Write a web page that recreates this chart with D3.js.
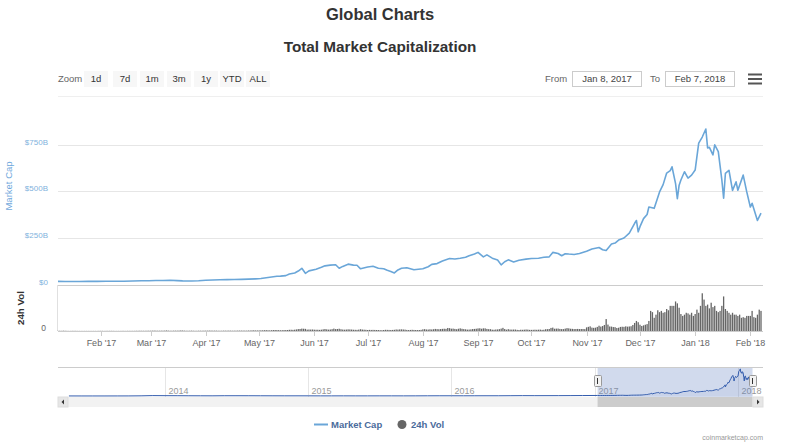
<!DOCTYPE html>
<html><head><meta charset="utf-8">
<script src="https://cdn.jsdelivr.net/npm/d3@7"></script>
<style>body{margin:0;background:#fff}svg{display:block;font-family:"Liberation Sans",Arial,sans-serif}</style>
</head><body><svg id="c" width="800" height="444"></svg>
<script>
// ---------- DATA ----------
const chartTitle = "Global Charts";
const chartSubtitle = "Total Market Capitalization";
const zoomButtons = ["1d","7d","1m","3m","1y","YTD","ALL"];
const rangeFrom = "Jan 8, 2017";
const rangeTo = "Feb 7, 2018";
const capTicks = [0, 250, 500, 750];               // $B
const capTickLabels = ["$0","$250B","$500B","$750B"];
const legendNames = ["Market Cap","24h Vol"];
const navYears = ["2014","2015","2016","2017","2018"];

// Total market cap, $B (2017-01-08 .. 2018-02-07)
const capDates = ["2017-01-08","2017-01-12","2017-01-16","2017-01-20","2017-01-25","2017-01-30","2017-02-04","2017-02-09","2017-02-14","2017-02-19","2017-02-24","2017-02-28",
"2017-03-04","2017-03-08","2017-03-12","2017-03-16","2017-03-19","2017-03-24","2017-03-28","2017-04-01","2017-04-05","2017-04-09","2017-04-13","2017-04-17","2017-04-21","2017-04-25","2017-04-29",
"2017-05-02","2017-05-05","2017-05-08","2017-05-11","2017-05-13","2017-05-16","2017-05-18","2017-05-21","2017-05-23","2017-05-25","2017-05-27","2017-05-29",
"2017-06-02","2017-06-05","2017-06-07","2017-06-10","2017-06-13","2017-06-15","2017-06-17","2017-06-20","2017-06-23","2017-06-25","2017-06-27",
"2017-07-01","2017-07-04","2017-07-07","2017-07-10","2017-07-12","2017-07-14","2017-07-16","2017-07-18","2017-07-20","2017-07-23","2017-07-27",
"2017-08-01","2017-08-04","2017-08-06","2017-08-09","2017-08-12","2017-08-16","2017-08-19","2017-08-22","2017-08-25","2017-08-27","2017-08-30",
"2017-09-01","2017-09-04","2017-09-06","2017-09-09","2017-09-12","2017-09-14","2017-09-16","2017-09-18","2017-09-21","2017-09-24","2017-09-28",
"2017-10-01","2017-10-05","2017-10-08","2017-10-11","2017-10-13","2017-10-16","2017-10-18","2017-10-20","2017-10-22","2017-10-25","2017-10-28",
"2017-11-01","2017-11-04","2017-11-08","2017-11-10","2017-11-12","2017-11-15","2017-11-17","2017-11-19","2017-11-22","2017-11-25","2017-11-28","2017-11-29","2017-11-30",
"2017-12-01","2017-12-03","2017-12-05","2017-12-06","2017-12-09","2017-12-12","2017-12-14","2017-12-16","2017-12-18","2017-12-19","2017-12-21","2017-12-22","2017-12-23","2017-12-24","2017-12-26","2017-12-28","2017-12-30",
"2018-01-01","2018-01-03","2018-01-05","2018-01-07","2018-01-08","2018-01-09","2018-01-11","2018-01-12","2018-01-14","2018-01-16","2018-01-17","2018-01-18","2018-01-20","2018-01-22","2018-01-24","2018-01-25","2018-01-28","2018-01-30",
"2018-02-01","2018-02-02","2018-02-05","2018-02-07"];
const capValues = [16.5,15.8,16.2,16.3,16.6,16.9,17.5,17.2,17.8,18.5,19.8,20.3,
21.8,21.5,22.8,21.0,19.4,18.6,19.9,22.6,24.5,25.5,26.0,26.8,27.5,28.6,30.2,
32,36.5,40,44,45,47.5,56,62,72,87,60,73,
82,92,100,104,106,87,97,109,104,103,84,
94,98,87,84,76,70,62,78,87,90,79,
84,95,108,112,126,139,137,141,146,154,163,
172,148,159,141,131,105,122,132,121,130,136,
139,141,146,148,172,166,154,165,163,161,166,
178,190,198,186,182,217,222,238,249,275,328,343,282,
310,353,375,415,408,496,535,597,610,631,540,460,532,560,604,570,586,
613,757,790,833,731,735,694,748,712,560,462,595,612,504,550,505,586,496,
415,435,343,382];

// 24h volume, $B, one value per day from 2017-01-08
const volStart = "2017-01-08";
const volValues = [
/*Jan*/ 0.3,0.4,0.3,0.5,0.4,0.3,0.2,0.2,0.3,0.3,0.3,0.2,0.2,0.2,0.2,0.2,0.2,0.2,0.2,0.2,0.2,0.2,0.2,0.3,
/*Feb*/ 0.3,0.3,0.2,0.3,0.3,0.3,0.3,0.3,0.2,0.2,0.2,0.2,0.3,0.3,0.2,0.3,0.3,0.3,0.3,0.3,0.4,0.4,0.5,0.4,0.4,0.4,0.5,0.5,
/*Mar*/ 0.5,0.6,0.7,0.6,0.5,0.5,0.6,0.6,0.7,0.9,0.6,0.5,0.5,0.6,0.6,0.6,0.7,0.9,0.8,0.6,0.5,0.5,0.5,0.6,0.5,0.4,0.4,0.5,0.5,0.5,0.6,
/*Apr*/ 0.6,0.6,0.7,0.7,0.6,0.6,0.6,0.5,0.5,0.5,0.6,0.6,0.6,0.7,0.6,0.5,0.6,0.6,0.7,0.7,0.7,0.7,0.7,0.6,0.8,0.8,1.0,1.1,0.9,0.9,
/*May*/ 1.0,1.1,1.1,1.3,1.4,1.2,1.1,1.3,1.5,1.6,1.5,1.4,1.2,1.3,1.5,1.5,1.6,1.9,2.0,1.8,2.1,2.5,3.0,3.2,3.8,3.6,3.4,2.2,2.4,2.3,2.4,
/*Jun*/ 2.1,2.0,2.0,1.8,2.1,2.6,3.1,2.6,2.2,2.4,2.9,3.8,3.0,3.2,3.6,2.8,2.3,2.1,2.3,2.6,2.5,2.3,2.0,1.9,1.8,2.2,2.8,2.3,2.1,1.9,
/*Jul*/ 1.6,1.8,1.7,1.8,1.7,1.6,1.5,1.4,1.3,1.6,1.9,1.8,1.7,1.6,1.7,1.9,2.4,2.2,2.5,2.6,2.4,2.2,1.7,1.5,1.7,1.9,1.7,1.6,1.5,1.6,1.8,
/*Aug*/ 2.6,2.9,2.4,2.3,2.7,2.4,2.8,3.3,3.0,2.8,3.1,3.4,3.6,3.4,4.8,4.5,3.7,3.8,3.3,2.8,3.6,4.2,3.5,3.0,2.7,2.2,2.3,2.6,3.1,3.3,3.6,
/*Sep*/ 4.1,4.3,3.6,4.2,4.2,3.3,2.9,2.9,2.1,2.0,2.4,2.5,2.9,3.8,5.0,3.1,2.1,2.9,2.3,2.2,2.3,2.3,1.8,1.6,2.0,1.9,2.1,2.4,2.2,1.8,
/*Oct*/ 1.8,1.9,2.1,1.9,2.1,2.2,1.8,2.0,2.8,2.9,3.2,4.9,5.4,3.6,3.8,3.9,3.3,3.0,3.0,3.8,4.6,4.2,3.6,3.4,3.1,3.2,3.3,3.1,3.2,3.2,3.0,
/*Nov*/ 5.8,6.6,7.4,5.4,5.0,5.3,6.5,8.4,7.0,7.9,9.6,19.0,10.2,7.2,7.0,6.3,6.1,4.8,5.2,6.5,6.8,6.6,7.4,6.9,7.2,7.6,9.6,12.8,16.0,14.0,
/*Dec*/ 10,8,9,10,11,16,32,30,21,26,33,30,32,29,30,35,33,40,40,40,47,44,37,27,24,26,29,28,26,29,24,
/*Jan*/ 27,34,29,40,60,50,40,42,36,45,38,40,32,30,32,40,55,35,32,29,26,29,26,26,24,26,21,22,21,24,24,
/*Feb*/ 24,32,22,21,26,34,32];

// Navigator history before 2017, monthly total market cap $B
const navHistDates = ["2013-05-01","2013-06-01","2013-07-01","2013-08-01","2013-09-01","2013-10-01","2013-11-01","2013-12-01",
"2014-01-01","2014-02-01","2014-03-01","2014-04-01","2014-05-01","2014-06-01","2014-07-01","2014-08-01","2014-09-01","2014-10-01","2014-11-01","2014-12-01",
"2015-01-01","2015-02-01","2015-03-01","2015-04-01","2015-05-01","2015-06-01","2015-07-01","2015-08-01","2015-09-01","2015-10-01","2015-11-01","2015-12-01",
"2016-01-01","2016-02-01","2016-03-01","2016-04-01","2016-05-01","2016-06-01","2016-07-01","2016-08-01","2016-09-01","2016-10-01","2016-11-01","2016-12-01"];
const navHistValues = [1.6,1.4,1.2,1.4,1.7,2.2,5,12,
10,9,7,6,5,8,8,7.5,6.5,5.5,5,5,
4.5,3.5,3.5,4,3.5,3.5,4,4,3.5,4,5.5,6.5,
6.5,6,6.5,7,7,9,11,10,10.5,11,12,14];

// ---------- DRAW ----------
const svg = d3.select("#c");
const P = d3.utcParse("%Y-%m-%d");
const capData = capDates.map((d,i)=>({d:P(d), v:capValues[i]}));
const v0 = P(volStart);
const volData = volValues.map((v,i)=>({d:d3.utcDay.offset(v0,i), v}));
const navData = navHistDates.map((d,i)=>({d:P(d), v:navHistValues[i]})).concat(capData);

const L = 58, R = 763;
const x = d3.scaleUtc().domain([P("2017-01-08"), P("2018-02-07")]).range([L, 761]);
const y = d3.scaleLinear().domain([0, 750]).range([284.5, 144.5]);
const yv = d3.scaleLinear().domain([0, 70]).range([331, 287]);
const xn = d3.scaleUtc().domain([P("2014-01-01"), P("2018-01-01")]).range([165, 738]);
const yn = d3.scaleLinear().domain([0, 860]).range([396, 368]);

// Titles
svg.append("text").attr("x",380).attr("y",20).attr("text-anchor","middle")
  .attr("font-size",16.5).attr("font-weight","bold").attr("fill","#333").text(chartTitle);
svg.append("text").attr("x",380).attr("y",52).attr("text-anchor","middle")
  .attr("font-size",15.3).attr("font-weight","bold").attr("fill","#333").text(chartSubtitle);

// Range selector
svg.append("text").attr("x",58).attr("y",81.5).attr("font-size",9.5).attr("fill","#666").text("Zoom");
const btnCx = [96,125,152,179,206,232,258];
zoomButtons.forEach((b,i)=>{
  svg.append("rect").attr("x",btnCx[i]-12).attr("y",71).attr("width",24).attr("height",16).attr("fill","#f7f7f7");
  svg.append("text").attr("x",btnCx[i]).attr("y",81.5).attr("text-anchor","middle").attr("font-size",9.5).attr("fill","#333").text(b);
});
svg.append("text").attr("x",545).attr("y",81.5).attr("font-size",9.5).attr("fill","#666").text("From");
svg.append("rect").attr("x",572.5).attr("y",71.5).attr("width",69).attr("height",15).attr("fill","#fff").attr("stroke","#ccc");
svg.append("text").attr("x",607).attr("y",82).attr("text-anchor","middle").attr("font-size",9.5).attr("fill","#444").text(rangeFrom);
svg.append("text").attr("x",650).attr("y",81.5).attr("font-size",9.5).attr("fill","#666").text("To");
svg.append("rect").attr("x",665.5).attr("y",71.5).attr("width",69).attr("height",15).attr("fill","#fff").attr("stroke","#ccc");
svg.append("text").attr("x",700).attr("y",82).attr("text-anchor","middle").attr("font-size",9.5).attr("fill","#444").text(rangeTo);
[74.5,79,83.5].forEach(yy=>svg.append("line").attr("x1",748).attr("x2",762).attr("y1",yy).attr("y2",yy).attr("stroke","#555").attr("stroke-width",2));
svg.append("line").attr("x1",L).attr("x2",R).attr("y1",96.5).attr("y2",96.5).attr("stroke","#efefef");

// Main grid + y axis
capTicks.forEach((t,i)=>{
  const yy = Math.round(y(t))+0.5;
  svg.append("line").attr("x1",L).attr("x2",R).attr("y1",yy).attr("y2",yy)
    .attr("stroke", t===0 ? "#ccc" : "#e6e6e6");
  svg.append("text").attr("x",48).attr("y",yy-1).attr("text-anchor","end")
    .attr("font-size",8).attr("fill","#7fb2dd").text(capTickLabels[i]);
});
svg.append("text").attr("transform","translate(12,186) rotate(-90)").attr("text-anchor","middle")
  .attr("font-size",9.5).attr("fill","#6fa8dc").text("Market Cap");

// Volume pane
svg.append("line").attr("x1",57.5).attr("x2",57.5).attr("y1",285).attr("y2",331).attr("stroke","#e0e0e0");
svg.append("text").attr("x",46).attr("y",330.5).attr("text-anchor","end").attr("font-size",8.5).attr("fill","#666").text("0");
svg.append("text").attr("transform","translate(24,308) rotate(-90)").attr("text-anchor","middle")
  .attr("font-size",9.8).attr("font-weight","bold").attr("fill","#333").text("24h Vol");
svg.append("g").selectAll("rect").data(volData).join("rect")
  .attr("x",d=>x(d.d)-0.65).attr("width",1.3)
  .attr("y",d=>yv(d.v)).attr("height",d=>yv(0)-yv(d.v)).attr("fill","#666");

// x axis
svg.append("line").attr("x1",L).attr("x2",R).attr("y1",331.5).attr("y2",331.5).attr("stroke","#ccc");
const months = d3.utcMonth.range(P("2017-02-01"), P("2018-02-02"));
const fmt = d3.utcFormat("%b '%y");
months.forEach(m=>{
  const xx = Math.round(x(m))+0.5;
  svg.append("line").attr("x1",xx).attr("x2",xx).attr("y1",331.5).attr("y2",336).attr("stroke","#ccc");
  svg.append("text").attr("x",xx).attr("y",346).attr("text-anchor","middle").attr("font-size",9).attr("fill","#666").text(fmt(m));
});

// Market cap line
svg.append("path").datum(capData)
  .attr("d", d3.line().x(d=>x(d.d)).y(d=>y(d.v)))
  .attr("fill","none").attr("stroke","#6aa6d8").attr("stroke-width",1.6).attr("stroke-linejoin","round");

// Navigator
const defs = svg.append("defs");
defs.append("clipPath").attr("id","navclip").append("rect").attr("x",L).attr("y",360).attr("width",R-L).attr("height",40);
navYears.forEach(yr=>{
  const xx = Math.round(xn(P(yr+"-01-01")))+0.5;
  svg.append("line").attr("x1",xx).attr("x2",xx).attr("y1",367).attr("y2",397).attr("stroke","#e6e6e6");
  svg.append("text").attr("x",xx+3).attr("y",394).attr("font-size",9).attr("fill","#999").text(yr);
});
const selX0 = xn(P("2017-01-08")), selX1 = xn(P("2018-02-07"));
svg.append("rect").attr("x",selX0).attr("y",367).attr("width",selX1-selX0).attr("height",30).attr("fill","rgba(102,133,194,0.3)");
const ng = svg.append("g").attr("clip-path","url(#navclip)");
ng.append("path").datum(navData)
  .attr("d", d3.area().x(d=>xn(d.d)).y0(yn(0)).y1(d=>yn(d.v)))
  .attr("fill","rgba(51,92,173,0.05)");
ng.append("path").datum(navData)
  .attr("d", d3.line().x(d=>xn(d.d)).y(d=>yn(d.v)))
  .attr("fill","none").attr("stroke","#335cad").attr("stroke-width",1);
svg.append("line").attr("x1",L).attr("x2",R).attr("y1",367.5).attr("y2",367.5).attr("stroke","#ccc");
[selX0, selX1].forEach(hx=>{
  svg.append("rect").attr("x",Math.round(hx)-3.5).attr("y",375.5).attr("width",7).attr("height",11)
    .attr("fill","#f2f2f2").attr("stroke","#999").attr("rx",1);
  svg.append("line").attr("x1",Math.round(hx)-0.5).attr("x2",Math.round(hx)-0.5).attr("y1",378).attr("y2",384).attr("stroke","#333");
});

// Scrollbar
svg.append("rect").attr("x",L).attr("y",397).attr("width",R-L).attr("height",10).attr("fill","#f2f2f2");
svg.append("rect").attr("x",selX0).attr("y",397).attr("width",selX1-selX0).attr("height",10).attr("fill","#cccccc");
svg.append("rect").attr("x",L).attr("y",397).attr("width",10).attr("height",10).attr("fill","#e6e6e6").attr("stroke","#ddd");
svg.append("rect").attr("x",R-10).attr("y",397).attr("width",10).attr("height",10).attr("fill","#e6e6e6").attr("stroke","#ddd");
svg.append("path").attr("d",`M${L+6},399.5 L${L+3.5},402 L${L+6},404.5 Z`).attr("fill","#333");
svg.append("path").attr("d",`M${R-6},399.5 L${R-3.5},402 L${R-6},404.5 Z`).attr("fill","#333");

// Legend
svg.append("line").attr("x1",314).attr("x2",328).attr("y1",424.5).attr("y2",424.5).attr("stroke","#6aa6d8").attr("stroke-width",2);
svg.append("text").attr("x",331).attr("y",428).attr("font-size",9.5).attr("font-weight","bold").attr("fill","#4a6b9b").text(legendNames[0]);
svg.append("circle").attr("cx",402).attr("cy",424.5).attr("r",4.5).attr("fill","#666");
svg.append("text").attr("x",411).attr("y",428).attr("font-size",9.5).attr("font-weight","bold").attr("fill","#4a6b9b").text(legendNames[1]);

// Credit
svg.append("text").attr("x",763).attr("y",440).attr("text-anchor","end").attr("font-size",7).attr("fill","#999").text("coinmarketcap.com");
</script></body></html>
